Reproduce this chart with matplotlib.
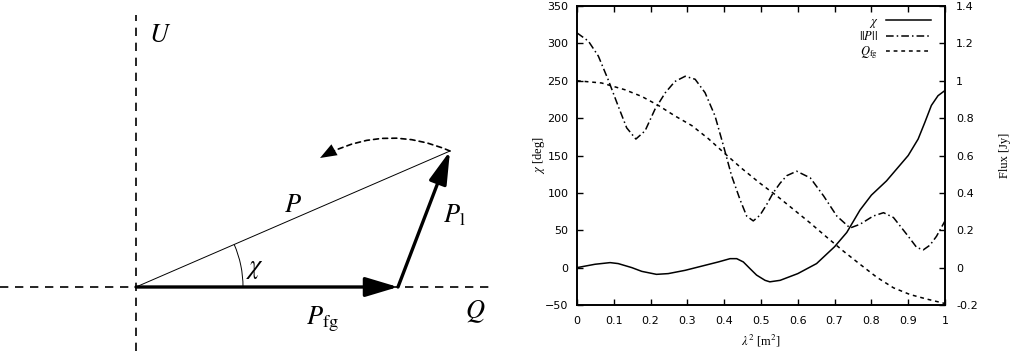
import numpy as np
import matplotlib
matplotlib.use("Agg")
import matplotlib.pyplot as plt
from matplotlib.patches import FancyArrowPatch, Arc
from matplotlib.ticker import FuncFormatter

plt.rcParams['mathtext.fontset'] = 'stix'
plt.rcParams['font.family'] = ['DejaVu Sans']

# --- diagram geometry (pixel-like units, origin at the Q/U crossing) ---
p_fg_tip = (262, 0)
p_tip = (314, 136)
swing_end = (184, 129)
chi_deg = np.degrees(np.arctan2(p_tip[1], p_tip[0]))

# --- right panel data ---
chi_x = [0, 0.049, 0.09, 0.112, 0.149, 0.176, 0.216, 0.248, 0.294, 0.339, 0.384,
         0.416, 0.434, 0.452, 0.47, 0.488, 0.511, 0.524, 0.552, 0.6, 0.651, 0.7,
         0.733, 0.769, 0.8, 0.841, 0.9, 0.927, 0.945, 0.963, 0.981, 1.0]
chi_y = [0, 4.5, 6.7, 5.4, 0, -5, -9, -8, -3.6, 2, 7.6,
         12, 12, 7.6, -1.3, -10, -17, -19, -17, -8, 5.4, 28,
         47, 77, 97, 116, 150, 172, 194, 217, 230, 237]

pnorm_x = [0, 0.031, 0.058, 0.085, 0.112, 0.135, 0.16, 0.185, 0.212, 0.24, 0.266,
           0.294, 0.321, 0.348, 0.375, 0.398, 0.42, 0.443, 0.461, 0.479, 0.497,
           0.515, 0.533, 0.552, 0.57, 0.597, 0.634, 0.67, 0.706, 0.742, 0.769,
           0.805, 0.833, 0.86, 0.9, 0.923, 0.941, 0.959, 0.977, 1.0]
pnorm_y = [1.256, 1.212, 1.132, 1.004, 0.864, 0.748, 0.688, 0.732, 0.848, 0.936, 0.996,
           1.024, 1.008, 0.936, 0.812, 0.652, 0.492, 0.364, 0.276, 0.25, 0.28,
           0.336, 0.4, 0.452, 0.492, 0.516, 0.48, 0.384, 0.276, 0.212, 0.232,
           0.276, 0.294, 0.268, 0.168, 0.108, 0.095, 0.12, 0.168, 0.25]

qfg_x = [0, 0.067, 0.13, 0.176, 0.221, 0.266, 0.312, 0.357, 0.402, 0.447, 0.497,
         0.543, 0.588, 0.633, 0.678, 0.724, 0.769, 0.815, 0.86, 0.905, 0.95, 1.0]
qfg_y = [1.0, 0.988, 0.952, 0.916, 0.868, 0.812, 0.76, 0.69, 0.61, 0.532, 0.452,
         0.384, 0.312, 0.24, 0.164, 0.088, 0.018, -0.052, -0.108, -0.144, -0.168, -0.192]

fig = plt.figure(figsize=(10.11, 3.51), dpi=100)

# ---------------- left: Stokes Q/U diagram ----------------
ax0 = fig.add_axes([0, 0, 510 / 1011, 1])
ax0.set_xlim(-136, 374)
ax0.set_ylim(-64, 287)
ax0.axis('off')

ax0.plot([-136, 354], [0, 0], color='black', lw=1.2, ls=(0, (5, 4)))
ax0.plot([0, 0], [-64, 272], color='black', lw=1.2, ls=(0, (5, 4)))

ax0.plot([0, p_tip[0]], [0, p_tip[1]], color='black', lw=0.7)
ax0.add_patch(FancyArrowPatch((0, 0), p_fg_tip, arrowstyle='-|>,head_length=20,head_width=6',
                              mutation_scale=1, lw=2.4, color='black', shrinkA=0, shrinkB=0))
ax0.add_patch(FancyArrowPatch(p_fg_tip, p_tip, arrowstyle='-|>,head_length=20,head_width=5.5',
                              mutation_scale=1, lw=2.4, color='black', shrinkA=0, shrinkB=0))
# dashed swing arrow: dashed body + solid head drawn separately
ax0.add_patch(FancyArrowPatch(p_tip, swing_end, arrowstyle='-', connectionstyle='arc3,rad=0.25',
                              mutation_scale=1, lw=1.2, ls=(0, (3, 2.5)), color='black',
                              shrinkA=0, shrinkB=8))
ax0.add_patch(FancyArrowPatch(p_tip, swing_end, arrowstyle='-|>,head_length=12,head_width=4.5',
                              connectionstyle='arc3,rad=0.25', mutation_scale=1, lw=0,
                              color='black', shrinkA=0, shrinkB=0))
ax0.add_patch(Arc((0, 0), 214, 214, theta1=0, theta2=chi_deg, color='black', lw=0.7))

tkw = dict(fontsize=19, ha='center', va='center')
ax0.text(24, 252, r'$U$', **tkw)
ax0.text(339, -25, r'$Q$', **tkw)
ax0.text(157, 82, r'$P$', **tkw)
ax0.text(318, 72, r'$P_{\rm l}$', **tkw)
ax0.text(186, -32, r'$P_{\rm fg}$', **tkw)
ax0.text(119, 19, r'$\chi$', **tkw)

# ---------------- right: chi and flux vs lambda^2 ----------------
ax = fig.add_axes([577 / 1011, 46 / 351, 368 / 1011, 299 / 351])
ax2 = ax.twinx()

l1, = ax.plot(chi_x, chi_y, color='black', lw=1.1, label=r'$\chi$')
l2, = ax2.plot(pnorm_x, pnorm_y, color='black', lw=1.1, ls=(0, (5, 2, 1, 2)), label=r'$||P||$')
l3, = ax2.plot(qfg_x, qfg_y, color='black', lw=1.1, ls=(0, (2.5, 2.5)), label=r'$Q_{\rm fg}$')

ax.set_xlim(0, 1)
ax.set_ylim(-50, 350)
ax2.set_ylim(-0.2, 1.4)
ax.set_xticks(np.arange(0, 1.01, 0.1))
ax.set_yticks(np.arange(-50, 351, 50))
ax2.set_yticks(np.arange(-0.2, 1.41, 0.2))
ax.xaxis.set_major_formatter(FuncFormatter(lambda v, p: '%g' % round(v, 2)))
ax2.yaxis.set_major_formatter(FuncFormatter(lambda v, p: '%g' % round(v, 2)))

for a in (ax, ax2):
    a.tick_params(direction='in', length=4, width=1, labelsize=8, top=True, colors='black')
    for s in a.spines.values():
        s.set_linewidth(1.2)
ax.tick_params(axis='x', pad=8)
ax.tick_params(axis='y', pad=6)
ax2.tick_params(axis='y', pad=8)

lab = dict(fontsize=9, family='Liberation Serif')
ax.set_xlabel(r'$\lambda^2$ [m$^2$]', labelpad=5, **lab)
ax.set_ylabel(r'$\chi$ [deg]', labelpad=-1, **lab)
ax2.set_ylabel('Flux [Jy]', labelpad=15, **lab)

ax2.legend(handles=[l1, l2, l3], loc='upper right', frameon=False, markerfirst=False,
           fontsize=9, handlelength=3.6, handletextpad=0.6, labelspacing=0.05,
           borderaxespad=0.3, bbox_to_anchor=(0.985, 1.0))

fig.savefig('out.png', dpi=100)
